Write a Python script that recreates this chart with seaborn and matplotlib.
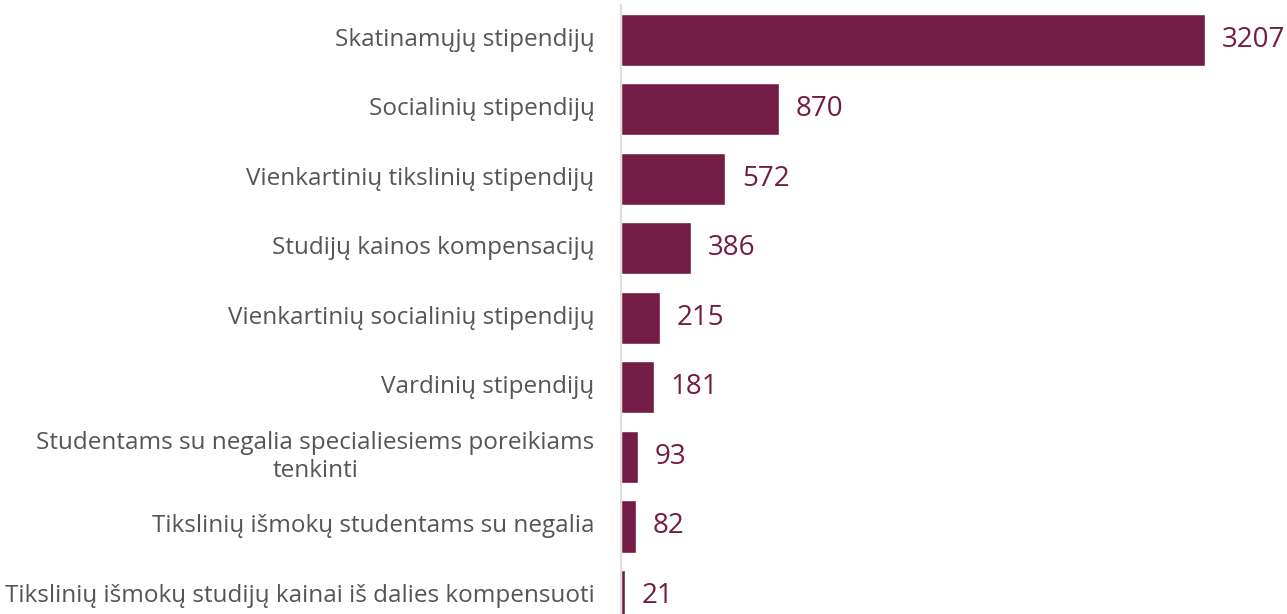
import pandas as pd
import numpy as np
import matplotlib.pyplot as plt
import seaborn as sns

# ===============================
# Data
# ===============================
categories = [
    "Skatinamųjų stipendijų",
    "Socialinių stipendijų",
    "Vienkartinių tikslinių stipendijų",
    "Studijų kainos kompensacijų",
    "Vienkartinių socialinių stipendijų",
    "Vardinių stipendijų",
    "Studentams su negalia specialiesiems poreikiams\ntenkinti",
    "Tikslinių išmokų studentams su negalia",
    "Tikslinių išmokų studijų kainai iš dalies kompensuoti",
]
values = [3207, 870, 572, 386, 215, 181, 93, 82, 21]

bar_color = "#741C45"
label_color = "#555555"

df = pd.DataFrame({"Kategorija": categories, "Reikšmė": values})

# ===============================
# Plot
# ===============================
sns.set_style("white")
plt.rcParams["font.family"] = ["Open Sans", "DejaVu Sans"]

fig = plt.figure(figsize=(12.87, 6.14), dpi=100)
ax = fig.add_axes([621 / 1287, 0, 1 - 621 / 1287, (614 - 5) / 614])

sns.barplot(data=df, x="Reikšmė", y="Kategorija", color=bar_color,
            width=0.75, saturation=1, ax=ax)

ax.set_xlim(0, 3657)
ax.set_ylim(8 + 18 / 69.5, -0.5)

# value labels
for i, v in enumerate(values):
    ax.annotate(f"{v}", xy=(v, i), xytext=(12, 0), textcoords="offset points",
                va="center", ha="left", fontsize=20, color=bar_color)

# category labels (centered multiline, right aligned)
ax.set_yticklabels([])
trans = ax.get_yaxis_transform()
for i, c in enumerate(categories):
    ax.annotate(c, xy=(0, i), xycoords=trans, xytext=(-19, 0),
                textcoords="offset points", ha="right", va="center",
                multialignment="center", linespacing=1.2,
                fontsize=17.5, color=label_color)

ax.set_xlabel("")
ax.set_ylabel("")
ax.set_xticks([])
ax.tick_params(axis="y", length=0)

for s in ["top", "right", "bottom"]:
    ax.spines[s].set_visible(False)
ax.spines["left"].set_color("#dddddd")
ax.spines["left"].set_linewidth(1.5)

fig.savefig("out.png", dpi=100)
